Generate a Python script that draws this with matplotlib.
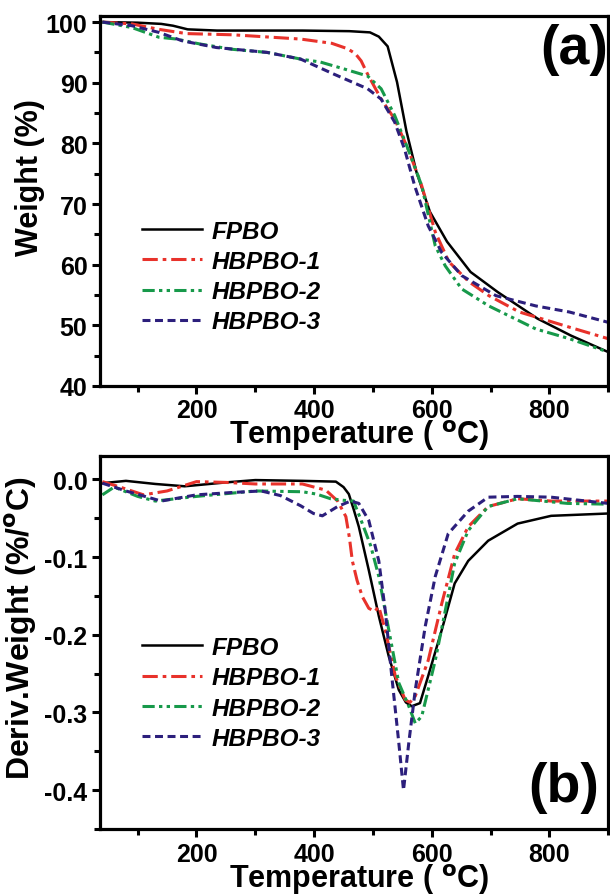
import matplotlib
matplotlib.use("Agg")
import matplotlib.pyplot as plt
from matplotlib.ticker import MultipleLocator

plt.rcParams['font.family'] = ['Liberation Sans', 'DejaVu Sans']
plt.rcParams['font.weight'] = 'bold'
plt.rcParams['axes.unicode_minus'] = False
plt.rcParams['mathtext.default'] = 'bf'

names = ['FPBO', 'HBPBO-1', 'HBPBO-2', 'HBPBO-3']

# (a) TGA: weight (%) vs temperature
fpbo_t = [40, 100, 140, 160, 185, 235, 380, 460, 495, 510, 525, 541, 557, 574, 597, 626, 666, 712, 780, 837, 900]
fpbo_w = [100, 99.9, 99.7, 99.4, 98.8, 98.6, 98.6, 98.5, 98.3, 97.6, 96, 90.1, 82, 75.3, 68.7, 63.8, 58.8, 55.5, 51.1, 48.3, 45.6]
hb1_t = [40, 90, 136, 183, 262, 377, 430, 457, 470, 480, 491, 514, 537, 560, 583, 606, 629, 663, 697, 749, 834, 900]
hb1_w = [100, 99.7, 98.8, 98.1, 97.9, 97.2, 96.5, 95.6, 94.8, 93.6, 91.4, 87.3, 84, 79, 73, 65.4, 60.5, 57.2, 54.9, 52.2, 49.7, 47.8]
hb2_t = [40, 90, 136, 166, 205, 262, 320, 377, 411, 450, 491, 514, 537, 560, 583, 606, 623, 651, 697, 777, 834, 900]
hb2_w = [100, 99.1, 97.5, 97.2, 96.4, 95.5, 95, 93.9, 93.4, 92.3, 91.1, 89, 84.6, 79, 73, 63.1, 59.8, 56, 53.2, 49.4, 47.8, 45.6]
hb3_t = [40, 90, 136, 176, 234, 320, 377, 434, 491, 514, 537, 554, 571, 594, 617, 651, 709, 777, 834, 900]
hb3_w = [100, 99.4, 98.3, 96.9, 95.8, 95, 93.9, 91.4, 89, 87.3, 83.5, 79, 73, 66.4, 62, 58.2, 54.9, 53.2, 52.2, 50.5]

# (b) DTG: derivative weight (%/C) vs temperature
fpbo_dt = [40, 80, 130, 180, 250, 300, 380, 437, 450, 459, 467, 476, 493, 510, 527, 544, 556, 566, 580, 594, 617, 639, 662, 696, 746, 803, 900]
fpbo_d = [-0.005, -0.002, -0.006, -0.009, -0.004, -0.001, -0.002, -0.003, -0.01, -0.019, -0.038, -0.061, -0.117, -0.176, -0.228, -0.271, -0.287, -0.292, -0.288, -0.253, -0.194, -0.134, -0.105, -0.079, -0.057, -0.047, -0.044]
hb1_dt = [40, 70, 110, 150, 200, 250, 300, 380, 420, 440, 454, 460, 465, 473, 482, 493, 503, 510, 521, 538, 555, 563, 572, 594, 617, 639, 662, 696, 746, 803, 900]
hb1_d = [-0.003, -0.01, -0.02, -0.015, -0.003, -0.004, -0.006, -0.006, -0.014, -0.028, -0.048, -0.075, -0.105, -0.13, -0.151, -0.166, -0.17, -0.164, -0.194, -0.253, -0.284, -0.287, -0.279, -0.233, -0.16, -0.096, -0.061, -0.035, -0.025, -0.028, -0.028]
hb2_dt = [40, 60, 100, 130, 200, 300, 380, 404, 428, 450, 467, 479, 496, 510, 527, 544, 561, 572, 583, 606, 623, 639, 662, 696, 746, 831, 900]
hb2_d = [-0.02, -0.01, -0.022, -0.028, -0.022, -0.015, -0.016, -0.019, -0.025, -0.027, -0.028, -0.051, -0.085, -0.125, -0.194, -0.262, -0.292, -0.314, -0.305, -0.233, -0.169, -0.108, -0.066, -0.035, -0.025, -0.031, -0.032]
hb3_dt = [40, 80, 140, 200, 260, 310, 343, 377, 399, 414, 440, 462, 476, 493, 510, 521, 532, 544, 552, 561, 572, 589, 606, 628, 662, 696, 746, 803, 900]
hb3_d = [-0.005, -0.015, -0.028, -0.02, -0.017, -0.015, -0.021, -0.034, -0.044, -0.047, -0.035, -0.028, -0.031, -0.053, -0.105, -0.169, -0.253, -0.339, -0.40, -0.339, -0.271, -0.189, -0.125, -0.07, -0.041, -0.023, -0.022, -0.023, -0.031]

colors = ['black', '#e8322b', '#17994a', '#2c1f7c']
styles = ['-', (0, (5, 1.6, 1.2, 1.6)), (0, (4, 1.4, 1.1, 1.4, 1.1, 1.4)), (0, (2.6, 1.5))]
widths = [1.8, 2.2, 2.2, 2.2]

fig = plt.figure(figsize=(6.1, 8.95), dpi=100)
ax1 = fig.add_axes([0.164, 0.5676, 0.833, 0.4134])
ax2 = fig.add_axes([0.164, 0.0726, 0.833, 0.4168])

top = [(fpbo_t, fpbo_w), (hb1_t, hb1_w), (hb2_t, hb2_w), (hb3_t, hb3_w)]
bot = [(fpbo_dt, fpbo_d), (hb1_dt, hb1_d), (hb2_dt, hb2_d), (hb3_dt, hb3_d)]

for i in range(4):
    ax1.plot(top[i][0], top[i][1], color=colors[i], linestyle=styles[i], lw=widths[i], label=names[i])
    ax2.plot(bot[i][0], bot[i][1], color=colors[i], linestyle=styles[i], lw=widths[i], label=names[i])

ax1.set_ylim(40, 101)
ax1.yaxis.set_major_locator(MultipleLocator(10))
ax1.yaxis.set_minor_locator(MultipleLocator(5))
ax2.set_ylim(-0.45, 0.03)
ax2.yaxis.set_major_locator(MultipleLocator(0.1))
ax2.yaxis.set_minor_locator(MultipleLocator(0.05))
ax2.yaxis.set_major_formatter(matplotlib.ticker.FormatStrFormatter('%.1f'))

for ax in (ax1, ax2):
    ax.set_xlim(36, 900)
    ax.xaxis.set_major_locator(MultipleLocator(200))
    ax.xaxis.set_minor_locator(MultipleLocator(100))
    for s in ax.spines.values():
        s.set_linewidth(2.3)
    ax.tick_params(which='major', direction='out', length=6, width=2.2, labelsize=18, pad=3)
    ax.tick_params(which='minor', direction='out', length=4, width=2.2)
    ax.tick_params(top=False, right=False)
    for lab in ax.get_xticklabels() + ax.get_yticklabels():
        lab.set_fontweight('bold')
    ax.set_xlabel('Temperature ( $^{o}$C)', fontsize=22, fontweight='bold')

ax1.xaxis.set_label_coords(0.51, -0.085)
ax2.xaxis.set_label_coords(0.51, -0.085)

ax1.set_ylabel('Weight (%)', fontsize=22, fontweight='bold')
ax1.yaxis.set_label_coords(-0.108, 0.565)
ax2.set_ylabel('Deriv.Weight (%/$^{o}$C)', fontsize=23, fontweight='bold')
ax2.yaxis.set_label_coords(-0.12, 0.54)

leg_font = {'weight': 'bold', 'style': 'italic', 'size': 17.5}
ax1.legend(loc='center left', bbox_to_anchor=(0.083, 0.296), frameon=False, prop=leg_font,
           handlelength=2.45, handletextpad=0.4, labelspacing=0.3, borderpad=0, borderaxespad=0)
ax2.legend(loc='center left', bbox_to_anchor=(0.083, 0.365), frameon=False, prop=leg_font,
           handlelength=2.45, handletextpad=0.4, labelspacing=0.3, borderpad=0, borderaxespad=0)

ax1.text(0.867, 0.91, '(a)', transform=ax1.transAxes, fontsize=40, fontweight='bold', ha='left', va='center')
ax2.text(0.842, 0.113, '(b)', transform=ax2.transAxes, fontsize=40, fontweight='bold', ha='left', va='center')

fig.savefig('out.png', dpi=100)
